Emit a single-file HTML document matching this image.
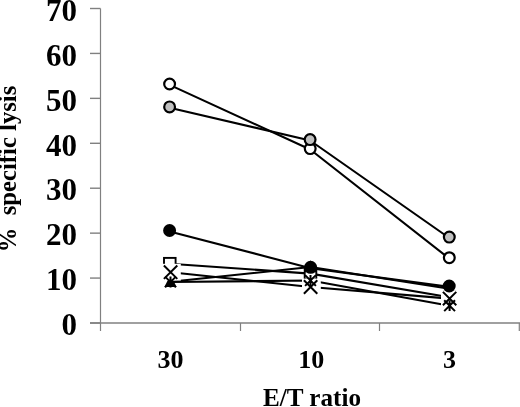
<!DOCTYPE html>
<html><head><meta charset="utf-8"><style>
html,body{margin:0;padding:0;background:#fff;width:520px;height:407px;overflow:hidden}
svg{display:block;will-change:transform}
text{font-family:"Liberation Serif",serif;font-weight:bold;fill:#000}
.yl{font-size:31px}
.xl{font-size:26px}
.rl{font-size:24.7px}
</style></head><body>
<svg width="520" height="407" viewBox="0 0 520 407">
<path d="M100.5 8.5V331" stroke="#808080" stroke-width="1.2" fill="none"/>
<path d="M90 323H520" stroke="#808080" stroke-width="1.4" fill="none"/>
<path d="M90 8.50H100.5" stroke="#808080" stroke-width="1.4" fill="none"/>
<path d="M90 53.43H100.5" stroke="#808080" stroke-width="1.4" fill="none"/>
<path d="M90 98.36H100.5" stroke="#808080" stroke-width="1.4" fill="none"/>
<path d="M90 143.29H100.5" stroke="#808080" stroke-width="1.4" fill="none"/>
<path d="M90 188.21H100.5" stroke="#808080" stroke-width="1.4" fill="none"/>
<path d="M90 233.14H100.5" stroke="#808080" stroke-width="1.4" fill="none"/>
<path d="M90 278.07H100.5" stroke="#808080" stroke-width="1.4" fill="none"/>
<path d="M90 323.00H100.5" stroke="#808080" stroke-width="1.4" fill="none"/>
<path d="M240.5 323V331" stroke="#808080" stroke-width="1.2" fill="none"/>
<path d="M379.5 323V331" stroke="#808080" stroke-width="1.2" fill="none"/>
<path d="M519.3 323V331" stroke="#808080" stroke-width="1.2" fill="none"/>
<text x="77" y="20.7" text-anchor="end" class="yl">70</text>
<text x="77" y="65.6" text-anchor="end" class="yl">60</text>
<text x="77" y="110.6" text-anchor="end" class="yl">50</text>
<text x="77" y="155.5" text-anchor="end" class="yl">40</text>
<text x="77" y="200.4" text-anchor="end" class="yl">30</text>
<text x="77" y="245.3" text-anchor="end" class="yl">20</text>
<text x="77" y="290.3" text-anchor="end" class="yl">10</text>
<text x="77" y="335.2" text-anchor="end" class="yl">0</text>
<text x="170.5" y="368.3" text-anchor="middle" class="xl">30</text>
<text x="311.3" y="368.3" text-anchor="middle" class="xl">10</text>
<text x="449.6" y="368.3" text-anchor="middle" class="xl">3</text>
<text x="312" y="406" text-anchor="middle" class="xl" textLength="98" lengthAdjust="spacingAndGlyphs">E/T ratio</text>
<text transform="translate(16.3 252.3) rotate(-90)" class="rl">%&#160;&#160;specific lysis</text>
<polyline points="169.8,263.7 310.5,273.6 449.5,297.2" fill="none" stroke="#000" stroke-width="2.1" stroke-linejoin="round"/>
<polyline points="170.6,272.2 310.6,287.0 449.6,298.6" fill="none" stroke="#000" stroke-width="2.1" stroke-linejoin="round"/>
<polyline points="170.5,282.0 310.5,280.5 449.6,305.7" fill="none" stroke="#000" stroke-width="2.1" stroke-linejoin="round"/>
<polyline points="170.5,281.8 310.5,267.0 449.5,288.8" fill="none" stroke="#000" stroke-width="2.1" stroke-linejoin="round"/>
<polyline points="169.6,231.4 310.6,268.2 449.2,286.9" fill="none" stroke="#000" stroke-width="2.1" stroke-linejoin="round"/>
<polyline points="169.6,84.9 310.2,149.5 449.3,258.6" fill="none" stroke="#000" stroke-width="2.1" stroke-linejoin="round"/>
<polyline points="169.6,107.8 310.1,140.5 449.3,238.0" fill="none" stroke="#000" stroke-width="2.1" stroke-linejoin="round"/>
<rect x="164.00" y="257.90" width="11.60" height="11.60" fill="#fff" stroke="#000" stroke-width="1.9"/>
<rect x="304.70" y="267.80" width="11.60" height="11.60" fill="#fff" stroke="#000" stroke-width="1.9"/>
<rect x="443.70" y="291.40" width="11.60" height="11.60" fill="#fff" stroke="#000" stroke-width="1.9"/>
<path d="M170.50 275.00L176.70 287.10L164.30 287.10Z" fill="#000"/>
<path d="M310.50 260.20L316.70 272.30L304.30 272.30Z" fill="#000"/>
<path d="M449.50 282.00L455.70 294.10L443.30 294.10Z" fill="#000"/>
<rect x="162.00" y="263.80" width="18.80" height="16.80" fill="#fff"/><path d="M163.90 265.50L177.30 278.90M177.30 265.50L163.90 278.90" stroke="#000" stroke-width="2" fill="none"/>
<rect x="302.00" y="278.60" width="18.80" height="16.80" fill="#fff"/><path d="M303.90 280.30L317.30 293.70M317.30 280.30L303.90 293.70" stroke="#000" stroke-width="2" fill="none"/>
<rect x="441.00" y="290.20" width="18.80" height="16.80" fill="#fff"/><path d="M442.90 291.90L456.30 305.30M456.30 291.90L442.90 305.30" stroke="#000" stroke-width="2" fill="none"/>
<path d="M165.10 276.60L175.90 287.40M175.90 276.60L165.10 287.40M170.50 276.60L170.50 287.40" stroke="#000" stroke-width="2" fill="none"/>
<path d="M305.10 275.10L315.90 285.90M315.90 275.10L305.10 285.90M310.50 275.10L310.50 285.90" stroke="#000" stroke-width="2" fill="none"/>
<path d="M444.20 300.30L455.00 311.10M455.00 300.30L444.20 311.10M449.60 300.30L449.60 311.10" stroke="#000" stroke-width="2" fill="none"/>
<circle cx="169.6" cy="230.5" r="5.4" fill="#000" stroke="#000" stroke-width="2.2"/>
<circle cx="310.6" cy="267.3" r="5.4" fill="#000" stroke="#000" stroke-width="2.2"/>
<circle cx="449.2" cy="286.0" r="5.4" fill="#000" stroke="#000" stroke-width="2.2"/>
<circle cx="169.6" cy="84.0" r="5.4" fill="#fff" stroke="#000" stroke-width="2.2"/>
<circle cx="310.2" cy="148.6" r="5.4" fill="#fff" stroke="#000" stroke-width="2.2"/>
<circle cx="449.3" cy="257.7" r="5.4" fill="#fff" stroke="#000" stroke-width="2.2"/>
<circle cx="169.6" cy="106.9" r="5.4" fill="#c0c0c0" stroke="#000" stroke-width="2.2"/>
<circle cx="310.1" cy="139.6" r="5.4" fill="#c0c0c0" stroke="#000" stroke-width="2.2"/>
<circle cx="449.3" cy="237.1" r="5.4" fill="#c0c0c0" stroke="#000" stroke-width="2.2"/>
</svg>
</body></html>
